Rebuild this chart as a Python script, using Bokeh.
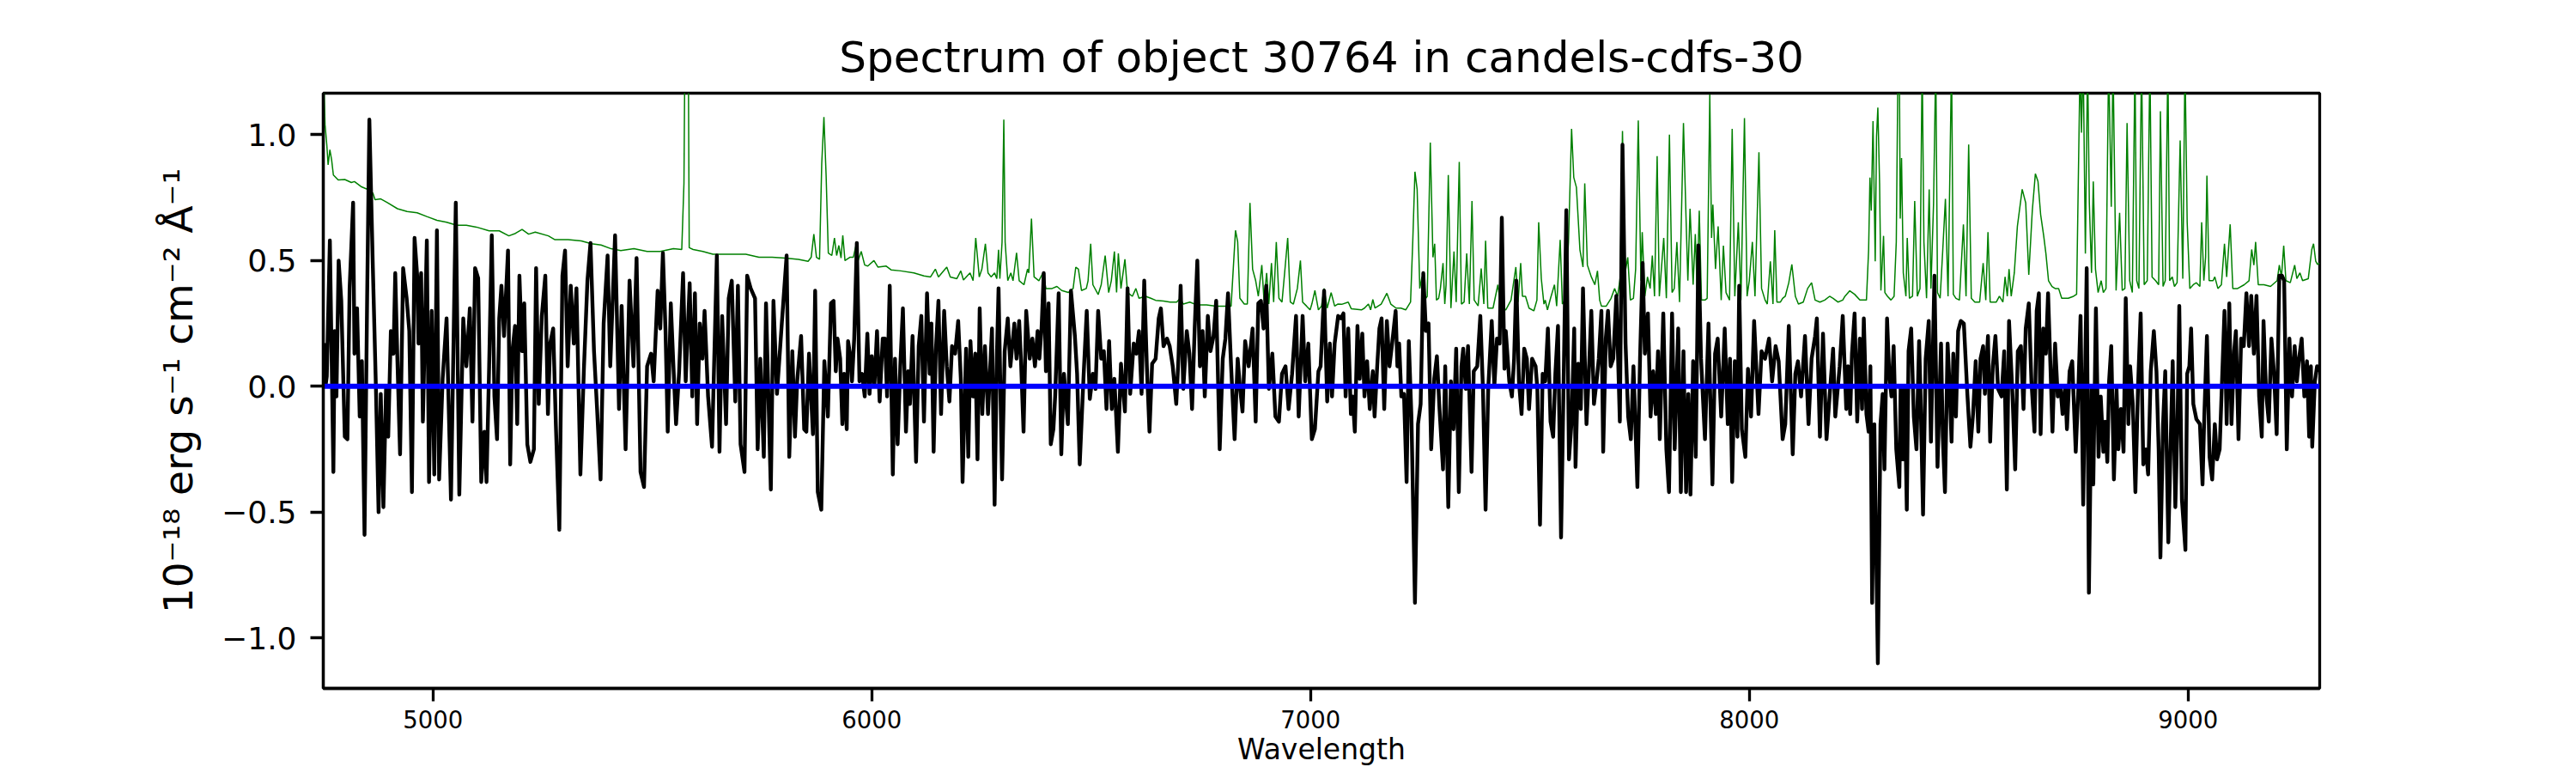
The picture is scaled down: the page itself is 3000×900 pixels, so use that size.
from bokeh.plotting import figure
from bokeh.models import FixedTicker
from bokeh.embed import file_html
from bokeh.resources import INLINE

TITLE = "Spectrum of object 30764 in candels-cdfs-30"
X_LABEL = "Wavelength"
Y_LABEL = "10\u207b\u00b9\u2078 erg s\u207b\u00b9 cm\u207b\u00b2 \u00c5\u207b\u00b9"
X_TICKS = [5000, 6000, 7000, 8000, 9000]
Y_TICKS = [-1.0, -0.5, 0.0, 0.5, 1.0]
Y_TICK_LABELS = ["\u22121.0", "\u22120.5", "0.0", "0.5", "1.0"]
X_RANGE = (4750, 9300)
Y_RANGE = (-1.2, 1.165)

flux_a = [(4750, 0.11), (4753, 0.165), (4755, 0.0), (4758, 0.04), (4765, 0.58), (4773, -0.34), (4776, 0.22),
          (4780, -0.04), (4785, 0.5), (4791, 0.34), (4799, -0.2), (4805, -0.21), (4810, 0.39), (4818, 0.73),
          (4821, 0.13), (4827, 0.31), (4833, -0.12), (4838, 0.10), (4844, -0.59), (4850, 0.36), (4855, 1.06),
          (4863, 0.47), (4870, -0.01), (4876, -0.5), (4881, -0.03), (4887, -0.48), (4893, -0.01), (4898, -0.2),
          (4904, 0.22), (4910, 0.13), (4914, 0.45), (4919, 0.1), (4925, -0.27), (4932, 0.47), (4940, 0.35),
          (4946, 0.22), (4952, -0.42), (4958, 0.59), (4964, 0.44), (4967, 0.17), (4973, 0.45), (4977, -0.14),
          (4986, 0.58), (4991, -0.38), (4997, 0.3), (5003, -0.35), (5009, 0.62), (5014, -0.37), (5022, 0.03),
          (5031, 0.27), (5041, -0.45), (5052, 0.73), (5060, -0.43), (5069, 0.27), (5076, 0.08), (5084, 0.31),
          (5090, -0.14), (5096, 0.47), (5103, 0.43), (5110, -0.38), (5117, -0.18), (5122, -0.38), (5128, 0.08),
          (5134, 0.6), (5140, -0.04), (5146, -0.21), (5151, 0.27), (5156, 0.4), (5162, 0.2), (5171, 0.54),
          (5176, -0.31), (5181, 0.14), (5187, 0.24), (5192, -0.15), (5197, 0.44), (5203, 0.14), (5208, 0.33),
          (5215, -0.23), (5222, -0.3), (5230, -0.25), (5235, 0.47), (5241, -0.07), (5248, 0.28), (5256, 0.44),
          (5262, -0.11), (5267, 0.17), (5274, 0.23), (5280, -0.15), (5288, -0.57), (5295, 0.44), (5301, 0.54),
          (5307, 0.08), (5314, 0.4), (5321, 0.17), (5327, 0.39), (5336, -0.35), (5344, 0.07), (5352, 0.42),
          (5359, 0.57), (5367, 0.14), (5374, -0.09), (5382, -0.37), (5389, 0.25), (5398, 0.52), (5404, 0.08),
          (5415, 0.6), (5424, -0.09), (5430, 0.32), (5439, -0.25), (5448, 0.42), (5457, 0.08), (5464, 0.51),
          (5473, -0.34), (5481, -0.4), (5488, 0.08), (5497, 0.13), (5503, 0.02), (5512, 0.38), (5518, 0.23),
          (5524, 0.53), (5530, 0.22), (5535, -0.18), (5542, 0.33), (5548, 0.08), (5554, -0.15), (5561, 0.06),
          (5570, 0.45), (5576, 0.02), (5585, 0.41), (5591, -0.04), (5597, 0.37), (5602, -0.15), (5608, 0.25),
          (5614, 0.11), (5619, 0.3), (5627, -0.04), (5636, -0.24), (5647, 0.52), (5653, -0.26), (5659, 0.28),
          (5668, -0.15), (5674, 0.35), (5681, 0.42), (5689, -0.06), (5695, 0.4), (5701, -0.23), (5710, -0.34),
          (5716, 0.44), (5724, 0.39), (5734, 0.35), (5740, -0.25), (5746, 0.11), (5754, -0.28), (5759, 0.33),
          (5770, -0.41), (5776, 0.34), (5784, -0.03), (5795, 0.25), (5806, 0.52), (5812, -0.28), (5819, 0.14),
          (5825, -0.2), (5830, 0.02), (5839, 0.2), (5846, -0.17), (5851, -0.18), (5857, 0.13), (5866, -0.19),
          (5871, 0.38), (5877, -0.42), (5885, -0.49), (5892, 0.1), (5900, -0.12), (5907, 0.33)]

flux_b = [(5913, 0.34), (5918, 0.06), (5922, 0.19), (5928, 0.11), (5933, -0.15), (5937, 0.05), (5943, -0.17),
          (5946, 0.18), (5952, 0.11), (5955, 0.02), (5960, 0.19), (5966, 0.57), (5972, 0.02), (5978, 0.05),
          (5984, -0.04), (5990, 0.21), (5995, -0.03), (6000, 0.12), (6006, 0.0), (6012, 0.22), (6018, -0.06),
          (6025, 0.19), (6030, 0.19), (6035, -0.04), (6041, 0.4), (6048, -0.35), (6053, 0.11), (6059, -0.23),
          (6065, 0.08), (6071, 0.31), (6078, -0.18), (6083, 0.06), (6087, -0.07), (6093, 0.2), (6101, -0.3),
          (6107, 0.16), (6113, 0.28), (6119, -0.14), (6126, 0.37), (6132, 0.05), (6136, 0.25), (6141, -0.26),
          (6146, 0.14), (6152, 0.34), (6158, -0.11), (6165, 0.3), (6171, 0.08), (6177, -0.06), (6183, 0.16),
          (6190, 0.13), (6197, 0.26), (6203, 0.03), (6207, -0.38), (6215, 0.15), (6220, -0.28), (6225, 0.18),
          (6231, -0.04), (6236, 0.13), (6241, -0.29), (6246, 0.31), (6252, -0.11), (6258, 0.16), (6265, -0.11),
          (6274, 0.23), (6280, -0.47), (6285, 0.11), (6289, 0.39), (6297, -0.37), (6303, 0.14), (6310, 0.27),
          (6316, 0.08), (6325, 0.25), (6330, 0.11), (6336, 0.26), (6340, 0.11), (6346, -0.18), (6352, 0.3),
          (6360, 0.11), (6366, 0.19), (6372, 0.08), (6378, 0.22), (6382, 0.11), (6387, 0.23), (6392, 0.45),
          (6397, 0.06), (6403, 0.33), (6408, -0.23), (6414, -0.17), (6418, -0.04), (6426, 0.37), (6432, -0.27),
          (6438, 0.05), (6447, -0.15), (6454, 0.38), (6463, 0.2), (6468, 0.05), (6474, -0.31), (6483, 0.05),
          (6490, 0.3), (6497, -0.05), (6504, 0.05), (6510, -0.01), (6516, 0.3), (6523, 0.11), (6529, 0.14),
          (6535, -0.09), (6541, 0.18), (6547, -0.09), (6553, 0.03), (6561, -0.26), (6568, 0.09), (6577, -0.1),
          (6583, 0.39), (6589, -0.03), (6597, 0.17), (6603, 0.13), (6609, 0.22), (6615, -0.03), (6621, 0.42),
          (6627, 0.08), (6633, -0.18), (6639, 0.09), (6647, 0.11), (6654, 0.27), (6659, 0.31), (6665, 0.16),
          (6673, 0.19), (6679, 0.16), (6686, 0.08), (6694, -0.07), (6699, 0.11), (6704, 0.4), (6710, -0.01),
          (6718, 0.22), (6724, 0.13), (6730, -0.09), (6736, 0.23), (6742, 0.5), (6748, 0.08), (6754, 0.22),
          (6759, -0.04), (6766, 0.28), (6772, 0.14), (6779, 0.2), (6785, 0.34), (6793, -0.25), (6800, 0.11),
          (6806, 0.19), (6812, 0.37), (6819, 0.08), (6827, -0.21), (6834, 0.11), (6839, 0.0), (6845, -0.1),
          (6851, 0.18), (6859, 0.08), (6868, 0.23), (6875, -0.14), (6881, 0.33), (6887, 0.34), (6893, 0.23),
          (6899, 0.4), (6905, -0.01), (6913, 0.13), (6920, -0.12), (6928, -0.14), (6935, 0.05), (6943, 0.08),
          (6950, -0.09), (6958, 0.05), (6967, 0.28), (6973, -0.12), (6982, 0.28), (6988, 0.02), (6995, 0.17),
          (7003, -0.21), (7010, -0.17), (7018, 0.06), (7023, 0.08), (7031, 0.38), (7038, -0.06), (7044, 0.17),
          (7049, -0.04), (7055, 0.17)]

flux_c = [(7063, 0.28), (7069, 0.27), (7075, 0.29), (7080, -0.04), (7086, 0.23), (7092, -0.11), (7096, -0.04),
          (7101, -0.18), (7107, 0.24), (7112, 0.03), (7118, 0.21), (7123, -0.04), (7129, 0.1), (7135, -0.09),
          (7142, 0.06), (7146, -0.12), (7152, 0.08), (7157, 0.23), (7162, 0.27), (7168, -0.09), (7174, 0.26),
          (7180, 0.08), (7186, 0.17), (7194, 0.3), (7198, 0.08), (7202, 0.17), (7207, -0.04), (7213, -0.03),
          (7219, -0.38), (7224, 0.18), (7230, -0.12), (7238, -0.86), (7245, -0.15), (7251, -0.07), (7257, 0.45),
          (7263, 0.22), (7269, 0.25), (7275, -0.25), (7282, 0.03), (7288, 0.12), (7294, -0.09), (7302, -0.33),
          (7307, 0.08), (7314, -0.48), (7320, 0.02), (7326, -0.17), (7332, 0.15), (7338, -0.42), (7344, 0.08),
          (7348, 0.15), (7354, -0.01), (7359, 0.16), (7367, -0.34), (7372, 0.06), (7380, 0.08), (7387, 0.28),
          (7393, -0.01), (7399, -0.49), (7405, -0.01), (7413, 0.26), (7419, 0.0), (7425, 0.19), (7431, 0.17),
          (7436, 0.67), (7442, 0.07), (7445, 0.22), (7453, 0.02), (7459, -0.04), (7464, 0.11), (7469, 0.42),
          (7475, 0.02), (7481, -0.11), (7487, 0.15), (7493, 0.11), (7498, -0.09), (7505, 0.11), (7513, 0.08),
          (7517, -0.01), (7523, -0.55), (7529, 0.05), (7535, 0.02), (7541, 0.23), (7547, -0.14), (7553, -0.2),
          (7558, 0.05), (7564, 0.24), (7571, -0.6), (7577, 0.03), (7583, 0.7), (7589, -0.29), (7595, -0.14),
          (7601, 0.23), (7604, -0.32), (7610, 0.09), (7616, -0.09), (7621, 0.39), (7629, -0.15), (7634, 0.04),
          (7640, 0.3), (7646, -0.07), (7652, 0.02), (7657, 0.11), (7663, 0.3), (7667, -0.26), (7673, 0.19),
          (7678, 0.3), (7684, 0.08), (7690, 0.11), (7697, 0.36), (7705, -0.14), (7711, 0.96), (7718, 0.17),
          (7724, -0.12), (7730, -0.21), (7736, 0.08), (7745, -0.4), (7751, 0.11), (7757, 0.49), (7762, 0.13),
          (7769, 0.29), (7775, -0.12), (7781, 0.06), (7787, -0.11), (7792, 0.14), (7796, -0.21), (7804, 0.29),
          (7811, -0.25), (7817, -0.42), (7824, 0.29), (7830, -0.25), (7838, 0.23), (7844, -0.42), (7850, 0.14),
          (7856, -0.42), (7861, -0.03), (7866, -0.43), (7872, 0.1), (7878, -0.28), (7884, 0.56), (7890, 0.11),
          (7899, -0.21), (7907, 0.25), (7916, -0.39), (7922, 0.13), (7928, 0.19), (7936, -0.12), (7944, 0.23),
          (7951, -0.15), (7956, 0.11), (7961, -0.38), (7967, 0.1), (7973, -0.2), (7977, 0.4), (7983, -0.17),
          (7991, -0.28), (7997, 0.07), (8004, -0.12), (8011, 0.26), (8021, -0.11), (8028, 0.14), (8036, 0.11),
          (8045, 0.19), (8052, 0.02), (8060, 0.16), (8067, 0.1), (8076, -0.21), (8082, -0.15), (8090, 0.24),
          (8099, -0.27), (8105, 0.05), (8111, 0.1), (8118, -0.04), (8127, 0.2), (8135, -0.15), (8142, 0.11),
          (8150, 0.2), (8154, 0.27), (8161, -0.2), (8168, 0.21), (8176, -0.21), (8183, -0.04), (8191, 0.15),
          (8196, -0.12), (8206, 0.08), (8213, 0.28), (8221, -0.09)]

flux_d = [(8225, 0.08), (8230, -0.11), (8234, 0.13), (8240, 0.29), (8246, -0.14), (8252, 0.19), (8257, -0.09),
          (8261, 0.27), (8267, -0.11), (8272, -0.18), (8276, 0.08), (8280, -0.86), (8285, -0.15), (8293, -1.1),
          (8299, -0.15), (8304, -0.03), (8308, -0.33), (8314, 0.27), (8319, 0.05), (8324, -0.04), (8329, 0.16),
          (8335, -0.25), (8342, -0.4), (8345, 0.0), (8350, -0.29), (8354, 0.0), (8359, -0.49), (8363, 0.14),
          (8369, 0.23), (8375, -0.12), (8381, -0.25), (8387, 0.18), (8390, -0.01), (8396, -0.51), (8402, 0.11),
          (8409, 0.26), (8414, -0.22), (8422, 0.44), (8429, -0.32), (8437, 0.17), (8441, -0.2), (8446, -0.42),
          (8452, 0.17), (8456, 0.02), (8461, -0.22), (8465, 0.13), (8471, -0.12), (8476, 0.22), (8482, 0.26),
          (8489, 0.25), (8497, -0.03), (8504, -0.24), (8510, -0.11), (8516, 0.1), (8522, -0.18), (8527, 0.11),
          (8533, 0.16), (8537, -0.03), (8544, 0.2), (8549, -0.22), (8555, 0.08), (8561, 0.2), (8567, -0.01),
          (8575, -0.04), (8581, 0.14), (8587, -0.41), (8592, 0.26), (8600, -0.04), (8606, -0.33), (8612, 0.14),
          (8619, 0.16), (8625, -0.09), (8630, 0.23), (8637, 0.33), (8643, 0.02), (8650, -0.18), (8655, 0.3),
          (8660, 0.37), (8664, -0.19), (8670, 0.23), (8676, 0.13), (8681, 0.37), (8686, 0.1), (8691, -0.18),
          (8697, 0.17), (8703, -0.04), (8709, 0.0), (8714, -0.11), (8720, 0.0), (8724, -0.17), (8730, 0.06),
          (8736, 0.1), (8744, -0.26), (8750, -0.01), (8755, 0.28), (8761, -0.47), (8769, 0.47), (8774, -0.82),
          (8780, -0.01), (8784, -0.39), (8790, 0.31), (8796, -0.28), (8801, -0.04), (8807, -0.26), (8811, -0.14),
          (8816, -0.3), (8820, 0.02), (8825, 0.16), (8831, -0.37), (8837, -0.01), (8841, -0.25), (8847, -0.09),
          (8853, -0.26), (8858, 0.35), (8864, -0.15), (8868, 0.08), (8874, -0.07), (8880, -0.42), (8886, 0.0),
          (8892, 0.29), (8898, -0.31), (8904, -0.25), (8909, -0.35), (8915, 0.06), (8922, 0.22), (8928, 0.06),
          (8933, -0.25), (8937, -0.68), (8943, -0.15), (8948, 0.06), (8955, -0.62), (8961, -0.18), (8965, 0.1),
          (8971, -0.48), (8976, -0.14), (8980, 0.32), (8986, -0.45), (8994, -0.65), (8998, 0.05), (9003, 0.08),
          (9007, 0.23), (9012, -0.07), (9019, -0.13), (9027, -0.15), (9033, -0.39), (9037, -0.12), (9043, 0.2),
          (9049, -0.28), (9055, -0.37), (9061, -0.15), (9066, -0.29), (9072, -0.25), (9078, 0.05), (9083, 0.3),
          (9088, -0.15), (9094, 0.33), (9099, -0.15), (9105, 0.14), (9109, 0.22), (9115, -0.21), (9121, 0.19),
          (9127, 0.16), (9133, 0.37), (9139, 0.16), (9144, 0.36), (9150, 0.13), (9156, 0.36), (9162, -0.04),
          (9168, -0.2), (9172, 0.26), (9178, -0.03), (9184, -0.14), (9190, 0.19), (9196, 0.05), (9202, -0.19),
          (9208, 0.44), (9214, 0.44), (9219, 0.42), (9225, -0.25), (9231, 0.19), (9237, -0.04), (9243, 0.16),
          (9248, 0.02), (9253, 0.11), (9259, 0.19), (9265, -0.04), (9271, 0.1), (9276, -0.2), (9280, 0.08),
          (9283, -0.24), (9289, 0.02), (9294, 0.08), (9300, 0.06)]

# uncertainty / sky spectrum (wavelength, value); 1.3 marks lines running off the top
noise_a = [(4750, 1.3), (4754, 1.04), (4758, 0.96), (4761, 0.88), (4765, 0.94), (4769, 0.9), (4773, 0.84),
           (4784, 0.82), (4799, 0.822), (4814, 0.81), (4821, 0.814), (4836, 0.794), (4851, 0.783), (4863, 0.768),
           (4868, 0.742), (4881, 0.745), (4896, 0.73), (4919, 0.706), (4941, 0.695), (4964, 0.69), (4986, 0.675),
           (5009, 0.66), (5031, 0.652), (5054, 0.64), (5076, 0.64), (5099, 0.633), (5128, 0.618), (5151, 0.618),
           (5173, 0.598), (5188, 0.608), (5203, 0.624), (5218, 0.605), (5233, 0.613), (5263, 0.598), (5278, 0.583),
           (5308, 0.583), (5338, 0.578), (5361, 0.567), (5383, 0.562), (5406, 0.547), (5428, 0.54), (5458, 0.547),
           (5488, 0.536), (5518, 0.536), (5548, 0.547), (5567, 0.544), (5572, 0.807), (5574, 1.3), (5582, 1.3),
           (5584, 0.551), (5593, 0.544), (5615, 0.536), (5638, 0.525), (5660, 0.525), (5683, 0.525), (5713, 0.525),
           (5743, 0.513), (5773, 0.513), (5803, 0.51), (5833, 0.505), (5855, 0.497), (5862, 0.513), (5868, 0.605),
           (5874, 0.513), (5881, 0.505), (5886, 0.884), (5891, 1.07), (5896, 0.838)]

noise_b = [(5901, 0.53), (5909, 0.52), (5915, 0.59), (5920, 0.52), (5925, 0.56), (5930, 0.51), (5934, 0.6),
           (5939, 0.5), (5950, 0.513), (5958, 0.513), (5965, 0.567), (5969, 0.5), (5976, 0.536), (5984, 0.482),
           (5991, 0.478), (6005, 0.5), (6014, 0.474), (6033, 0.478), (6044, 0.463), (6066, 0.459), (6096, 0.451),
           (6119, 0.439), (6134, 0.435), (6145, 0.466), (6152, 0.435), (6171, 0.474), (6179, 0.435), (6194, 0.428),
           (6203, 0.459), (6209, 0.423), (6224, 0.451), (6231, 0.42), (6237, 0.59), (6245, 0.435), (6251, 0.466),
           (6259, 0.567), (6265, 0.451), (6272, 0.435), (6280, 0.451), (6285, 0.428), (6289, 0.543), (6292, 0.428),
           (6297, 0.574), (6301, 1.06), (6304, 0.574), (6310, 0.42), (6317, 0.451), (6322, 0.42), (6330, 0.531),
           (6336, 0.42), (6347, 0.404), (6355, 0.466), (6358, 0.451), (6364, 0.667), (6370, 0.435), (6381, 0.42),
           (6390, 0.451), (6397, 0.389), (6411, 0.389), (6422, 0.397), (6433, 0.381), (6448, 0.373), (6459, 0.389),
           (6465, 0.474), (6471, 0.466), (6478, 0.381), (6489, 0.389), (6493, 0.42), (6499, 0.567), (6504, 0.404),
           (6516, 0.365), (6523, 0.404), (6532, 0.52), (6540, 0.373), (6546, 0.42), (6553, 0.536), (6558, 0.373),
           (6562, 0.528), (6568, 0.389), (6577, 0.505), (6583, 0.373), (6594, 0.358), (6602, 0.389), (6609, 0.35),
           (6624, 0.358), (6636, 0.35), (6647, 0.342), (6665, 0.339), (6680, 0.335), (6695, 0.335), (6703, 0.35),
           (6710, 0.327), (6725, 0.335), (6740, 0.324), (6763, 0.324), (6785, 0.319), (6808, 0.319), (6819, 0.319),
           (6829, 0.62), (6834, 0.574), (6839, 0.35), (6849, 0.327), (6856, 0.327), (6862, 0.729), (6868, 0.466),
           (6875, 0.42), (6881, 0.358), (6889, 0.482), (6894, 0.342), (6900, 0.451), (6905, 0.327), (6911, 0.49),
           (6916, 0.335), (6922, 0.574), (6928, 0.35), (6935, 0.335), (6941, 0.451), (6948, 0.59), (6954, 0.335),
           (6961, 0.327), (6970, 0.389), (6977, 0.5), (6982, 0.335), (6991, 0.319), (6999, 0.304), (7003, 0.327),
           (7010, 0.381), (7018, 0.304), (7025, 0.319), (7031, 0.389), (7038, 0.311), (7047, 0.373), (7055, 0.319),
           (7062, 0.327)]

noise_c = [(7071, 0.326), (7086, 0.335), (7093, 0.308), (7116, 0.304), (7123, 0.311), (7132, 0.327), (7137, 0.304),
           (7142, 0.345), (7147, 0.311), (7161, 0.327), (7174, 0.37), (7183, 0.327), (7195, 0.311), (7206, 0.311),
           (7217, 0.304), (7228, 0.335), (7233, 0.575), (7238, 0.853), (7243, 0.783), (7249, 0.389), (7254, 0.435),
           (7260, 0.343), (7266, 0.358), (7273, 0.969), (7279, 0.513), (7283, 0.567), (7287, 0.343), (7292, 0.35),
           (7296, 0.389), (7302, 0.49), (7306, 0.327), (7309, 0.404), (7314, 0.84), (7320, 0.311), (7327, 0.536),
           (7332, 0.335), (7339, 0.892), (7344, 0.327), (7350, 0.335), (7356, 0.528), (7362, 0.327), (7368, 0.737),
           (7373, 0.343), (7382, 0.32), (7389, 0.469), (7395, 0.327), (7399, 0.579), (7404, 0.311), (7416, 0.311),
           (7427, 0.404), (7434, 0.311), (7445, 0.304), (7457, 0.343), (7468, 0.474), (7473, 0.335), (7479, 0.49),
           (7483, 0.358), (7490, 0.358), (7498, 0.311), (7509, 0.3), (7516, 0.343), (7520, 0.652), (7526, 0.428),
           (7532, 0.327), (7535, 0.343), (7540, 0.304), (7547, 0.35), (7556, 0.404), (7561, 0.319), (7569, 0.582),
           (7574, 0.327), (7580, 0.343), (7588, 0.574), (7595, 1.023), (7600, 0.83), (7606, 0.791), (7614, 0.543),
           (7621, 0.474), (7625, 0.807), (7631, 0.482), (7640, 0.435), (7648, 0.404), (7654, 0.459), (7659, 0.343),
           (7663, 0.319), (7674, 0.319), (7685, 0.35), (7693, 0.389), (7700, 0.358), (7706, 0.435), (7711, 1.015),
           (7717, 0.451), (7723, 0.513), (7729, 0.343), (7736, 0.35), (7741, 0.466), (7747, 1.057), (7753, 0.42),
           (7756, 0.613), (7762, 0.358), (7768, 0.435), (7774, 0.389), (7779, 0.52), (7784, 0.358), (7790, 0.915),
           (7795, 0.358), (7801, 0.497), (7805, 0.59), (7811, 0.35), (7818, 1.0), (7824, 0.373), (7829, 0.389),
           (7835, 0.574), (7841, 0.335), (7850, 1.046), (7856, 0.66), (7860, 0.42), (7865, 0.706), (7872, 0.404),
           (7877, 0.605), (7881, 0.389), (7886, 0.698), (7891, 0.343), (7899, 0.343), (7904, 0.35), (7910, 1.16),
           (7914, 0.59), (7917, 0.722), (7923, 0.466), (7929, 0.636), (7936, 0.343), (7941, 0.559), (7947, 0.373),
           (7955, 0.343), (7961, 1.023), (7967, 0.358), (7975, 0.652), (7981, 0.343), (7989, 1.066), (7995, 0.358),
           (8000, 0.42), (8007, 0.574), (8013, 0.358), (8022, 0.93), (8028, 0.389), (8036, 0.343), (8041, 0.327),
           (8048, 0.497), (8054, 0.327), (8058, 0.621), (8063, 0.335), (8071, 0.335), (8076, 0.35), (8082, 0.358),
           (8090, 0.412), (8097, 0.485), (8105, 0.358), (8112, 0.327), (8123, 0.335), (8133, 0.389), (8142, 0.412),
           (8150, 0.343), (8161, 0.335), (8172, 0.343), (8183, 0.358), (8191, 0.35), (8202, 0.335), (8213, 0.343)]

noise_d = [(8218, 0.358), (8229, 0.38), (8240, 0.366), (8252, 0.343), (8267, 0.343), (8272, 0.544), (8275, 0.83),
           (8278, 0.698), (8282, 1.054), (8287, 0.497), (8290, 0.992), (8293, 1.108), (8297, 0.807), (8300, 0.381),
           (8306, 0.598), (8309, 0.373), (8315, 0.358), (8323, 0.343), (8330, 0.358), (8335, 0.574), (8339, 1.3),
           (8342, 1.3), (8344, 0.667), (8347, 0.907), (8351, 0.451), (8357, 0.358), (8360, 0.59), (8365, 0.35),
           (8372, 0.358), (8377, 0.737), (8383, 0.358), (8389, 0.389), (8394, 1.3), (8398, 0.574), (8404, 0.35),
           (8410, 0.783), (8414, 0.389), (8420, 0.729), (8425, 1.3), (8429, 0.373), (8435, 0.35), (8441, 0.544),
           (8447, 0.745), (8453, 0.358), (8461, 1.3), (8465, 0.366), (8471, 0.35), (8479, 0.343), (8488, 0.644),
           (8494, 0.358), (8500, 0.961), (8506, 0.35), (8514, 0.335), (8525, 0.335), (8533, 0.49), (8539, 0.343),
           (8544, 0.613), (8549, 0.335), (8563, 0.335), (8570, 0.358), (8578, 0.335), (8583, 0.435), (8588, 0.358),
           (8592, 0.466), (8597, 0.358), (8604, 0.451), (8611, 0.636), (8622, 0.783), (8630, 0.729), (8637, 0.443),
           (8645, 0.698), (8652, 0.845), (8658, 0.814), (8664, 0.683), (8671, 0.598), (8676, 0.528), (8682, 0.42),
           (8690, 0.397), (8697, 0.389), (8705, 0.389), (8712, 0.35), (8727, 0.35), (8739, 0.358), (8746, 0.366),
           (8754, 1.3), (8757, 1.008), (8761, 1.3), (8766, 0.528), (8771, 1.3), (8775, 0.729), (8780, 0.451),
           (8784, 0.814), (8789, 0.466), (8795, 0.373), (8802, 0.42), (8807, 0.373), (8813, 0.389), (8819, 1.3),
           (8825, 0.714), (8829, 1.3), (8836, 0.381), (8844, 0.69), (8850, 0.381), (8856, 0.389), (8861, 1.046),
           (8867, 0.42), (8873, 0.373), (8879, 1.3), (8883, 0.42), (8888, 0.389), (8894, 1.3), (8900, 0.404),
           (8907, 0.42), (8913, 1.3), (8918, 0.435), (8926, 0.42), (8933, 0.404), (8937, 1.093), (8943, 0.397),
           (8948, 0.42), (8954, 1.3), (8958, 0.42), (8964, 0.435), (8969, 0.397), (8975, 0.412), (8982, 0.977),
           (8988, 0.428), (8993, 1.3), (8998, 0.652), (9004, 0.389), (9012, 0.404), (9019, 0.412), (9027, 0.397),
           (9031, 0.652), (9036, 0.42), (9040, 0.513), (9043, 0.837), (9048, 0.42), (9057, 0.42), (9061, 0.435),
           (9068, 0.389), (9076, 0.404), (9083, 0.567), (9088, 0.435), (9096, 0.644), (9102, 0.389), (9113, 0.389),
           (9128, 0.404), (9139, 0.42), (9145, 0.544), (9150, 0.482), (9154, 0.574), (9160, 0.404), (9173, 0.404),
           (9188, 0.397), (9203, 0.42), (9208, 0.482), (9213, 0.435), (9218, 0.559), (9223, 0.42), (9233, 0.412),
           (9243, 0.482), (9248, 0.428), (9255, 0.451), (9261, 0.42), (9274, 0.428), (9282, 0.544), (9286, 0.567),
           (9291, 0.497), (9295, 0.485), (9300, 0.49)]

# model (flat at zero)
model_wave = [4750, 9300]
model_flux = [0.0, 0.0]

flux_pts = flux_a + flux_b + flux_c + flux_d
noise_pts = noise_a + noise_b + noise_c + noise_d
flux_wave = [w for w, f in flux_pts]
flux_vals = [f for w, f in flux_pts]
noise_wave = [w for w, f in noise_pts]
noise_vals = [f for w, f in noise_pts]

FONT = "DejaVu Sans"

p = figure(width=3000, height=900, x_range=X_RANGE, y_range=Y_RANGE,
           output_backend="svg", toolbar_location=None, title=TITLE,
           min_border_left=376, min_border_right=299, min_border_top=108, min_border_bottom=99)

p.background_fill_color = "white"
p.border_fill_color = "white"
p.outline_line_color = "black"
p.outline_line_width = 3.3
p.xgrid.visible = False
p.ygrid.visible = False

p.title.text_font = FONT
p.title.text_font_size = "50px"
p.title.text_font_style = "normal"
p.title.text_color = "black"
p.title.align = "center"
p.title.standoff = 26

for ax in (p.xaxis[0], p.yaxis[0]):
    ax.axis_line_width = 3.3
    ax.axis_line_color = "black"
    ax.major_tick_line_width = 3.3
    ax.major_tick_line_color = "black"
    ax.major_tick_out = 15
    ax.major_tick_in = 0
    ax.minor_tick_out = 0
    ax.minor_tick_in = 0
    ax.major_label_text_font = FONT
    ax.major_label_text_color = "black"

p.xaxis.ticker = FixedTicker(ticks=X_TICKS)
p.xaxis.major_label_text_font_size = "27.5px"
p.xaxis.major_label_standoff = 10
p.xaxis.axis_label = X_LABEL
p.xaxis.axis_label_text_font = FONT
p.xaxis.axis_label_text_font_size = "33px"
p.xaxis.axis_label_text_font_style = "normal"
p.xaxis.axis_label_text_color = "black"
p.xaxis.axis_label_standoff = 2

p.yaxis.ticker = FixedTicker(ticks=Y_TICKS)
p.yaxis.major_label_overrides = dict(zip(Y_TICKS, Y_TICK_LABELS))
p.yaxis.major_label_text_font_size = "36px"
p.yaxis.major_label_standoff = 16
p.yaxis.axis_label = Y_LABEL
p.yaxis.axis_label_text_font = FONT
p.yaxis.axis_label_text_font_size = "47px"
p.yaxis.axis_label_text_font_style = "normal"
p.yaxis.axis_label_text_color = "black"
p.yaxis.axis_label_standoff = 20

p.line(noise_wave, noise_vals, line_color="#008000", line_width=1.5)
p.line(flux_wave, flux_vals, line_color="black", line_width=4.4, line_join="round")
p.line(model_wave, model_flux, line_color="#0000ff", line_width=6)

open("out.html", "w").write(file_html(p, INLINE))
